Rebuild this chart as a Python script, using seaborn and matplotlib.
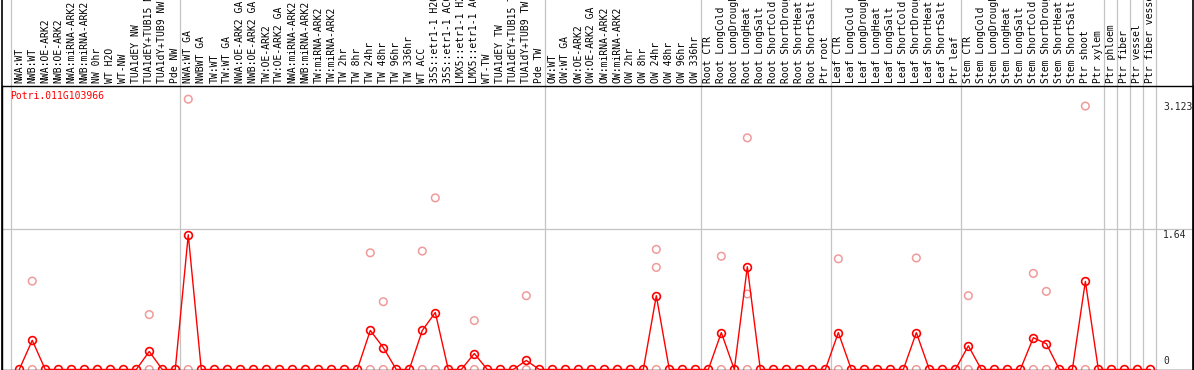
import matplotlib
matplotlib.use("Agg")
import pandas as pd
import matplotlib.pyplot as plt
import seaborn as sns

# estilo
sns.set_style("white")
plt.rcParams["font.family"] = ["DejaVu Sans Mono"]

# ==========================================
# Datos
# ==========================================
gene = "Potri.011G103966"

samples = [
    "NWA:WT", "NWB:WT", "NWA:OE-ARK2", "NWB:OE-ARK2", "NWA:miRNA-ARK2",
    "NWB:miRNA-ARK2", "NW 0hr", "WT H2O", "WT-NW", "TUA1dEY NW",
    "TUA1dEY+TUB15 NW", "TUA1dY+TUB9 NW", "Pde NW",
    "NWA:WT GA", "NWBWT GA", "TW:WT", "TW:WT GA", "NWA:OE-ARK2 GA",
    "NWB:OE-ARK2 GA", "TW:OE-ARK2", "TW:OE-ARK2 GA", "NWA:miRNA-ARK2",
    "NWB:miRNA-ARK2", "TW:miRNA-ARK2", "TW:miRNA-ARK2", "TW 2hr", "TW 8hr",
    "TW 24hr", "TW 48hr", "TW 96hr", "TW 336hr", "WT ACC",
    "35S::etr1-1 H2O", "35S::etr1-1 ACC", "LMX5::etr1-1 H2O",
    "LMX5::etr1-1 ACC", "WT-TW", "TUA1dEY TW", "TUA1dEY+TUB15 TW",
    "TUA1dY+TUB9 TW", "Pde TW",
    "OW:WT", "OW:WT GA", "OW:OE-ARK2", "OW:OE-ARK2 GA", "OW:miRNA-ARK2",
    "OW:miRNA-ARK2", "OW 2hr", "OW 8hr", "OW 24hr", "OW 48hr", "OW 96hr",
    "OW 336hr",
    "Root CTR", "Root LongCold", "Root LongDrought", "Root LongHeat",
    "Root LongSalt", "Root ShortCold", "Root ShortDrought", "Root ShortHeat",
    "Root ShortSalt", "Ptr root",
    "Leaf CTR", "Leaf LongCold", "Leaf LongDrought", "Leaf LongHeat",
    "Leaf LongSalt", "Leaf ShortCold", "Leaf ShortDrought", "Leaf ShortHeat",
    "Leaf ShortSalt", "Ptr leaf",
    "Stem CTR", "Stem LongCold", "Stem LongDrought", "Stem LongHeat",
    "Stem LongSalt", "Stem ShortCold", "Stem ShortDrought", "Stem ShortHeat",
    "Stem ShortSalt", "Ptr shoot", "Ptr xylem",
    "Ptr phloem", "Ptr fiber", "Ptr vessel", "Ptr fiber vessel",
]

# media por muestra (linea roja)
mean_expr = [
    0, 0.34, 0, 0, 0, 0, 0, 0, 0, 0, 0.21, 0, 0,
    1.57, 0, 0, 0, 0, 0, 0, 0, 0, 0, 0, 0, 0, 0,
    0.455, 0.256, 0, 0, 0.455, 0.664, 0, 0, 0.186, 0, 0, 0, 0.105, 0,
    0, 0, 0, 0, 0, 0, 0, 0, 0.86, 0, 0, 0,
    0, 0.43, 0, 1.197, 0, 0, 0, 0, 0, 0,
    0.43, 0, 0, 0, 0, 0, 0.43, 0, 0, 0,
    0.276, 0, 0, 0, 0, 0.37, 0.30, 0, 0, 1.026, 0,
    0, 0, 0, 0,
]

# replicas visibles (circulos rosas)
rep_pos = [1, 1, 10, 10, 13, 13, 27, 27, 28, 28, 31, 31, 32, 32, 35, 35,
           39, 39, 49, 49, 49, 54, 54, 56, 56, 56, 63, 63, 69, 69,
           73, 73, 78, 78, 79, 79, 82, 82]
rep_val = [1.03, 0, 0.64, 0, 3.15, 0, 1.36, 0, 0.79, 0, 1.38, 0, 2.00, 0,
           0.57, 0, 0.86, 0, 1.40, 1.19, 0, 1.32, 0, 2.70, 0.88, 0,
           1.29, 0, 1.30, 0, 0.86, 0, 1.12, 0, 0.91, 0, 3.07, 0]

# inicio de cada grupo (lineas grises verticales)
group_starts = [0, 13, 41, 53, 63, 73, 84, 85, 86, 87, 88]

y_ticks = [0, 1.64, 3.123]
y_tick_labels = ["0", "1.64", "3.123"]

df_mean = pd.DataFrame({"pos": range(len(samples)), "expr": mean_expr})
df_rep = pd.DataFrame({"pos": rep_pos, "expr": rep_val})

# ==========================================
# Grafico
# ==========================================
W, H = 1194, 370
top_px = 86  # separacion cabecera / grafico
fig = plt.figure(figsize=(W / 100, H / 100), dpi=100)
ax = fig.add_axes([1.7 / W, 0, (1193 - 1.7) / W, (H - top_px) / H])
ax.set_xlim(-1.35, 90.28)
ax.set_ylim(-0.006, 3.304)
ax.set_xticks([])
ax.set_yticks([])
ax.set_xlabel("")
ax.set_ylabel("")
for s in ax.spines.values():
    s.set_color("black")
    s.set_linewidth(1.0)

ext = H / (H - top_px)
grid_col = "#c4c4c4"
for g in group_starts:
    ax.axvline(g - 0.6, 0, ext, color=grid_col, lw=0.9, clip_on=False, zorder=0)
ax.axhline(1.64, color=grid_col, lw=0.9, zorder=0)
# marco que atraviesa la cabecera
ax.axvline(-1.35, 0, ext, color="black", lw=1.2, clip_on=False)
ax.axvline(90.28, 0, ext, color="black", lw=1.2, clip_on=False)

sns.scatterplot(data=df_rep, x="pos", y="expr", marker="o", s=30,
                facecolors="none", edgecolor="#f09a9a", linewidth=1.1,
                legend=False, ax=ax, zorder=2, clip_on=False)
sns.lineplot(data=df_mean, x="pos", y="expr", estimator=None, color="red",
             linewidth=1.0, marker="o", markersize=5.6,
             markerfacecolor="none", markeredgecolor="red",
             markeredgewidth=1.2, ax=ax, zorder=3)
ax.set_xlabel("")
ax.set_ylabel("")

# etiquetas de muestras
xt = ax.get_xaxis_transform()
for i, lab in enumerate(samples):
    ax.text(i, 1 + 3 / (H - top_px), lab, transform=xt, rotation=90,
            ha="center", va="bottom", fontsize=7, color="black", clip_on=False)

# etiquetas del eje y
ax.text(88, y_ticks[0] + 0.035, y_tick_labels[0], ha="left", va="bottom", fontsize=7)
ax.text(88, y_ticks[1] - 0.01, y_tick_labels[1], ha="left", va="top", fontsize=7)
ax.text(88, y_ticks[2] - 0.01, y_tick_labels[2], ha="left", va="top", fontsize=7)

ax.text(8.3 / 1191, 1 - 5 / (H - top_px), gene, transform=ax.transAxes,
        ha="left", va="top", fontsize=7, color="red")

fig.savefig("out.png", dpi=100)
